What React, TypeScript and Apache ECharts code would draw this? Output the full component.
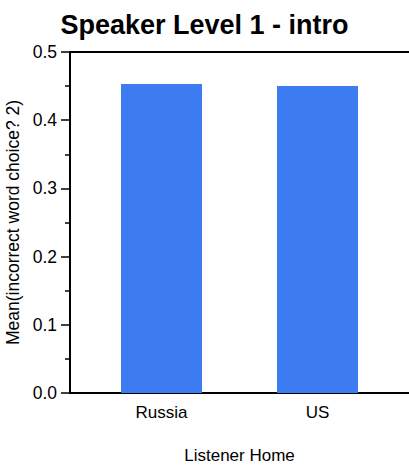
import React, { useEffect, useRef } from "react";
import * as echarts from "echarts";

const categories = ["Russia", "US"];
const values = [0.453, 0.45];
const yTicks = [0, 0.1, 0.2, 0.3, 0.4, 0.5];
const titleText = "Speaker Level 1 - intro";
const xName = "Listener Home";
const yName = "Mean(incorrect word choice? 2)";

export default function App() {
  const ref = useRef<HTMLDivElement>(null);
  useEffect(() => {
    if (!ref.current) return;
    const chart = echarts.init(ref.current, null, { renderer: "svg" });
    const font = "'Liberation Sans', Arial, sans-serif";
    const idx = categories.map((_, i) => i);
    chart.setOption({
      animation: false,
      backgroundColor: "#ffffff",
      title: {
        text: titleText,
        left: "center",
        top: 6,
        textStyle: { fontFamily: font, fontSize: 27, fontWeight: "bold", color: "#000" },
      },
      grid: { left: 70, right: 0, top: 52, bottom: 73, containLabel: false, outerBoundsMode: "none" },
      xAxis: [
        {
          type: "value",
          min: -0.5865,
          max: 1.5865,
          position: "bottom",
          name: xName,
          nameLocation: "middle",
          nameGap: 54,
          nameTextStyle: { fontFamily: font, fontSize: 17, color: "#000" },
          axisLine: { show: true, onZero: false, lineStyle: { color: "#000", width: 2 } },
          axisTick: { show: false },
          splitLine: { show: false },
          axisLabel: {
            customValues: idx,
            formatter: (v: number) => categories[Math.round(v)] ?? "",
            fontFamily: font,
            fontSize: 17,
            color: "#000",
            margin: 11,
          },
        },
        {
          type: "value",
          min: -0.5865,
          max: 1.5865,
          position: "top",
          axisLine: { show: true, onZero: false, lineStyle: { color: "#000", width: 2 } },
          axisTick: { show: false },
          axisLabel: { show: false },
          splitLine: { show: false },
        },
      ],
      yAxis: {
        type: "value",
        min: 0,
        max: 0.5,
        interval: 0.1,
        position: "left",
        name: yName,
        nameLocation: "middle",
        nameGap: 47,
        nameTextStyle: { fontFamily: font, fontSize: 17.5, color: "#000" },
        axisLine: { show: true, onZero: false, lineStyle: { color: "#000", width: 2 } },
        axisTick: { show: true, inside: false, length: 9, lineStyle: { color: "#000", width: 1.5 } },
        minorTick: { show: true, splitNumber: 2, length: 5, lineStyle: { color: "#000", width: 1.5 } },
        splitLine: { show: false },
        axisLabel: {
          customValues: yTicks,
          formatter: (v: number) => v.toFixed(1),
          fontFamily: font,
          fontSize: 17.5,
          color: "#000",
          margin: 13,
        },
      },
      series: [
        {
          type: "bar",
          xAxisIndex: 0,
          data: values.map((v, i) => [i, v]),
          barWidth: 81,
          itemStyle: { color: "#3c7cf0" },
        },
      ],
    });
    return () => chart.dispose();
  }, []);
  return <div ref={ref} style={{ width: 409, height: 466, position: "absolute", left: 0, top: 0 }} />;
}
